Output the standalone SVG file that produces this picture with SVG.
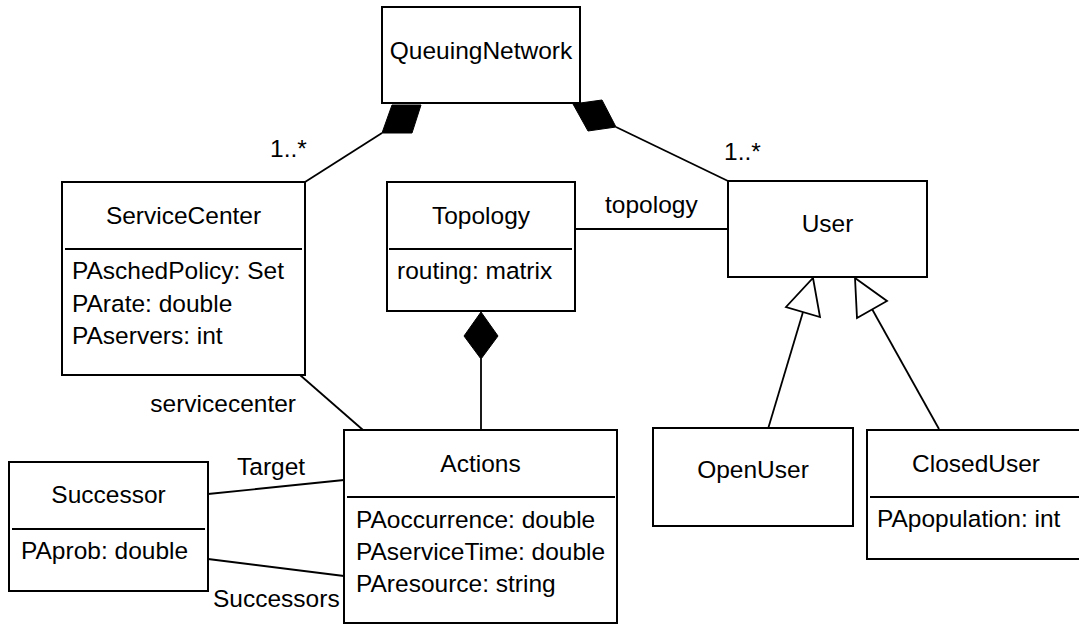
<svg xmlns="http://www.w3.org/2000/svg" width="1079" height="625" viewBox="0 0 1079 625">
<style>
.box{fill:#fff;stroke:#000;stroke-width:2}
.div{stroke:#000;stroke-width:2}
.ln{stroke:#000;stroke-width:1.8;fill:none}
.dia{fill:#000;stroke:#000;stroke-width:1}
.tri{fill:#fff;stroke:#000;stroke-width:1.8}
text{font-family:"Liberation Sans",Arial,Helvetica,sans-serif;font-size:24.5px;fill:#000}
.c{text-anchor:middle}
</style>
<rect width="1079" height="625" fill="#fff"/>
<g id="connectors">
<line class="ln" x1="305" y1="182" x2="382" y2="133"/>
<polygon class="dia" points="382,133 412,133 421,105 392,105"/>
<line class="ln" x1="616" y1="127" x2="728" y2="181"/>
<polygon class="dia" points="573,104 602,100 616,127 588,131"/>
<line class="ln" x1="575" y1="229" x2="728" y2="229"/>
<line class="ln" x1="481" y1="359" x2="481" y2="430"/>
<polygon class="dia" points="481,312 498,336 481,359 464,336"/>
<line class="ln" x1="300" y1="375" x2="363" y2="430"/>
<line class="ln" x1="208" y1="494" x2="344" y2="480"/>
<line class="ln" x1="208" y1="559" x2="344" y2="576"/>
<line class="ln" x1="768" y1="429" x2="803" y2="312"/>
<polygon class="tri" points="813,278 820,317 786,307"/>
<line class="ln" x1="939" y1="429" x2="872" y2="309"/>
<polygon class="tri" points="855,278 887,301 857,318"/>
<text x="270" y="157">1..*</text>
<text x="724" y="160">1..*</text>
<text x="605" y="213">topology</text>
<text x="296" y="412" text-anchor="end">servicecenter</text>
<text x="237" y="475">Target</text>
<text x="213" y="607">Successors</text>
</g>
<g id="QueuingNetwork">
<rect class="box" x="382" y="7" width="198" height="96"/>
<text class="c" x="481" y="59">QueuingNetwork</text>
</g>
<g id="ServiceCenter">
<rect class="box" x="62" y="182" width="243" height="193"/>
<line class="div" x1="65" y1="249" x2="302" y2="249"/>
<text class="c" x="183.5" y="224">ServiceCenter</text>
<text x="72" y="279">PAschedPolicy: Set</text>
<text x="72" y="312">PArate: double</text>
<text x="72" y="344">PAservers: int</text>
</g>
<g id="Topology">
<rect class="box" x="387" y="182" width="188" height="129"/>
<line class="div" x1="389" y1="249" x2="572" y2="249"/>
<text class="c" x="481" y="224">Topology</text>
<text x="397" y="279">routing: matrix</text>
</g>
<g id="User">
<rect class="box" x="728" y="181" width="199" height="96"/>
<text class="c" x="827.5" y="232">User</text>
</g>
<g id="Actions">
<rect class="box" x="344" y="430" width="273" height="193"/>
<line class="div" x1="347" y1="497" x2="615" y2="497"/>
<text class="c" x="480.5" y="472">Actions</text>
<text x="356" y="528">PAoccurrence: double</text>
<text x="356" y="560">PAserviceTime: double</text>
<text x="356" y="592">PAresource: string</text>
</g>
<g id="Successor">
<rect class="box" x="9" y="462" width="199" height="129"/>
<line class="div" x1="12" y1="529" x2="205" y2="529"/>
<text class="c" x="108.5" y="503">Successor</text>
<text x="21" y="559">PAprob: double</text>
</g>
<g id="OpenUser">
<rect class="box" x="653" y="428" width="200" height="98"/>
<text class="c" x="753" y="478">OpenUser</text>
</g>
<g id="ClosedUser">
<rect class="box" x="867" y="430" width="219" height="129"/>
<line class="div" x1="870" y1="497" x2="1086" y2="497"/>
<text class="c" x="976" y="472">ClosedUser</text>
<text x="877" y="527">PApopulation: int</text>
</g>
</svg>
